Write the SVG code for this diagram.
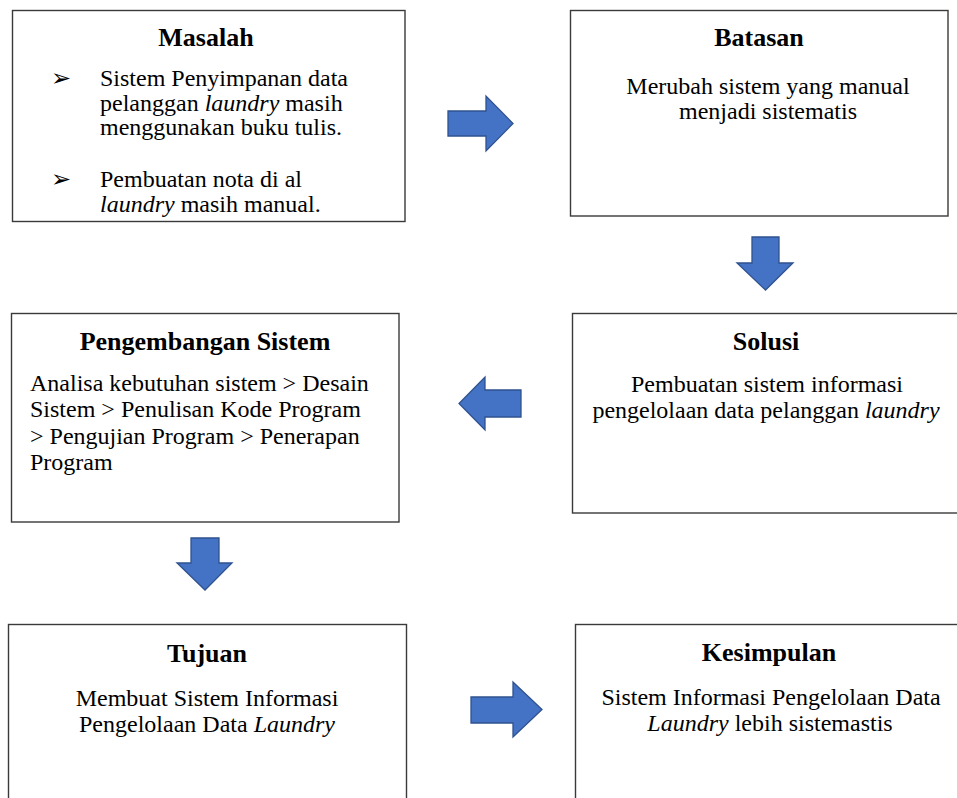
<svg xmlns="http://www.w3.org/2000/svg" width="957" height="798" viewBox="0 0 957 798">
  <defs>
    <style>
      .box { fill: #ffffff; stroke: #3a3a3a; stroke-width: 1.4; }
      .arrow { fill: #4472C4; stroke: #2F528F; stroke-width: 1.3; stroke-linejoin: miter; }
    </style>
  </defs>
  <rect width="957" height="798" fill="#ffffff"/>

  <!-- Masalah -->
  <g id="masalah">
    <rect class="box" x="12.5" y="10.5" width="392.5" height="211"/>
    <text x="206" y="46" font-family="Liberation Serif, serif" font-size="26" font-weight="bold" text-anchor="middle">Masalah</text>
    <g font-family="DejaVu Sans, sans-serif" font-size="24">
      <text x="51" y="86">➢</text>
      <text x="51" y="187">➢</text>
    </g>
    <g font-family="Liberation Serif, serif" font-size="24">
      <text x="100" y="86">Sistem Penyimpanan data</text>
      <text x="100" y="110.5">pelanggan <tspan font-style="italic">laundry</tspan> masih</text>
      <text x="100" y="135">menggunakan buku tulis.</text>
      <text x="100" y="186.5">Pembuatan nota di al</text>
      <text x="100" y="211.5"><tspan font-style="italic">laundry</tspan> masih manual.</text>
    </g>
  </g>

  <!-- Batasan -->
  <g id="batasan">
    <rect class="box" x="570.5" y="10.5" width="377.5" height="205.5"/>
    <text x="759" y="46" font-family="Liberation Serif, serif" font-size="26" font-weight="bold" text-anchor="middle">Batasan</text>
    <g font-family="Liberation Serif, serif" font-size="24" text-anchor="middle">
      <text x="768" y="94">Merubah sistem yang manual</text>
      <text x="768" y="119">menjadi sistematis</text>
    </g>
  </g>

  <!-- Pengembangan Sistem -->
  <g id="pengembangan">
    <rect class="box" x="11.5" y="313.5" width="387.5" height="208.5"/>
    <text x="205" y="350" font-family="Liberation Serif, serif" font-size="26" font-weight="bold" text-anchor="middle">Pengembangan Sistem</text>
    <g font-family="Liberation Serif, serif" font-size="24">
      <text x="30" y="391">Analisa kebutuhan sistem &gt; Desain</text>
      <text x="30" y="417">Sistem &gt; Penulisan Kode Program</text>
      <text x="30" y="443.5">&gt; Pengujian Program &gt; Penerapan</text>
      <text x="30" y="470">Program</text>
    </g>
  </g>

  <!-- Solusi -->
  <g id="solusi">
    <rect class="box" x="572.5" y="313.5" width="390" height="199.5"/>
    <text x="766" y="350" font-family="Liberation Serif, serif" font-size="26" font-weight="bold" text-anchor="middle">Solusi</text>
    <g font-family="Liberation Serif, serif" font-size="24" text-anchor="middle">
      <text x="767" y="392">Pembuatan sistem informasi</text>
      <text x="766" y="418">pengelolaan data pelanggan <tspan font-style="italic">laundry</tspan></text>
    </g>
  </g>

  <!-- Tujuan -->
  <g id="tujuan">
    <rect class="box" x="8.5" y="624.5" width="398" height="190"/>
    <text x="207" y="662" font-family="Liberation Serif, serif" font-size="26" font-weight="bold" text-anchor="middle">Tujuan</text>
    <g font-family="Liberation Serif, serif" font-size="24" text-anchor="middle">
      <text x="207" y="706">Membuat Sistem Informasi</text>
      <text x="207" y="732">Pengelolaan Data <tspan font-style="italic">Laundry</tspan></text>
    </g>
  </g>

  <!-- Kesimpulan -->
  <g id="kesimpulan">
    <rect class="box" x="575.5" y="624.5" width="390" height="190"/>
    <text x="769" y="661" font-family="Liberation Serif, serif" font-size="26" font-weight="bold" text-anchor="middle">Kesimpulan</text>
    <g font-family="Liberation Serif, serif" font-size="24" text-anchor="middle">
      <text x="771" y="705">Sistem Informasi Pengelolaan Data</text>
      <text x="770" y="731"><tspan font-style="italic">Laundry</tspan> lebih sistemastis</text>
    </g>
  </g>

  <!-- Block arrows between the stages -->
  <g id="connectors">
    <polygon class="arrow" points="448,111 486,111 486,96 513,123.5 486,151 486,136 448,136"/>
    <polygon class="arrow" points="752,237 779,237 779,263 793,263 765.5,290 737,263 752,263"/>
    <polygon class="arrow" points="521,390 485,390 485,377 459,403.5 485,430 485,417 521,417"/>
    <polygon class="arrow" points="191,538 219,538 219,563 232,563 205,590 177,563 191,563"/>
    <polygon class="arrow" points="471,697 513,697 513,682 542,709.5 513,737 513,723 471,723"/>
  </g>
</svg>
